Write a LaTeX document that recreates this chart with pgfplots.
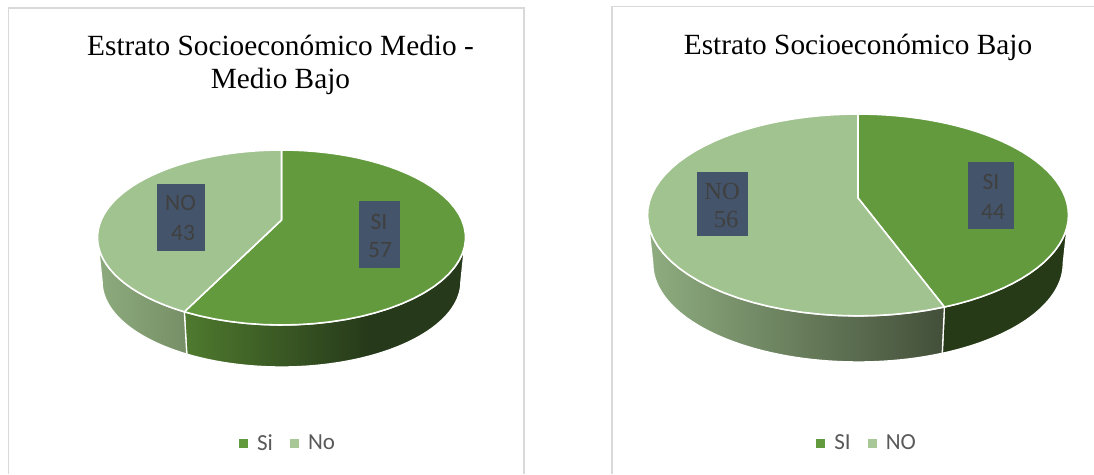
\documentclass[border=0pt]{standalone}
\usepackage{pgfplots}
\usepackage{pgfplotstable}
\pgfplotsset{compat=1.18}
\usepackage{fontspec}
\setmainfont{Liberation Serif}
\newfontfamily\calibri{Carlito}

\definecolor{siTop}{HTML}{629A3D}
\definecolor{noTop}{HTML}{A1C38F}
\definecolor{frameGray}{HTML}{D9D9D9}
\definecolor{boxBlue}{HTML}{44546A}
\definecolor{boxText}{HTML}{404040}
\definecolor{legendText}{HTML}{595959}
\definecolor{legendNo}{HTML}{A8C898}
\definecolor{wallA}{HTML}{4F7A2E}
\definecolor{wallB}{HTML}{26391A}
\definecolor{wallC}{HTML}{8DAB7E}
\definecolor{wallD}{HTML}{778F66}
\definecolor{wallE}{HTML}{8FAD80}
\definecolor{wallF}{HTML}{434F39}
\definecolor{wallG}{HTML}{263A17}

% Wall shadings: the path's bounding box spans 25bp to 75bp of each ramp.
\pgfdeclarehorizontalshading{wallSiMedio}{100bp}{
  color(0bp)=(wallA); color(25bp)=(wallA);
  color(58bp)=(wallB); color(100bp)=(wallB)}
\pgfdeclarehorizontalshading{wallNoMedio}{100bp}{
  color(0bp)=(wallC); color(25bp)=(wallC);
  color(75bp)=(wallD); color(100bp)=(wallD)}
\pgfdeclarehorizontalshading{wallNoBajo}{100bp}{
  color(0bp)=(wallE); color(25bp)=(wallE);
  color(75bp)=(wallF); color(100bp)=(wallF)}
\pgfdeclarehorizontalshading{wallSiBajo}{100bp}{
  color(0bp)=(wallG); color(100bp)=(wallG)}

% Survey shares per socio-economic stratum
\pgfplotstableread{
stratum si no
medio   57 43
bajo    44 56
}\shares

% Perspective disc: centre, vertical and horizontal gain, tilt, base scale, wall depth
\newcommand{\setpie}[7]{%
  \def\pieX{#1}\def\pieY{#2}\def\pieA{#3}\def\pieB{#4}\def\pieK{#5}\def\pieS{#6}\def\pieD{#7}%
  \pgfmathsetmacro\wallFrom{acos(-\pieK)}%
  \pgfmathsetmacro\wallTo{360-\wallFrom}%
}
% Seam angle of the first slice, clockwise from twelve o'clock, with the slight
% sideways lean of the slanted view
\newcommand{\setsplit}[1]{%
  \pgfplotstablegetelem{#1}{si}\of\shares\let\siv\pgfplotsretval
  \pgfplotstablegetelem{#1}{no}\of\shares\let\nov\pgfplotsretval
  \pgfmathsetmacro\split{\siv/(\siv+\nov)*360}%
  \pgfmathsetmacro\split{\split+0.55*(1-cos(\split))}%
}
% Appends an arc of the disc, angles clockwise from twelve o'clock
\newcommand{\appendarc}[4]{%
  \foreach \i in {0,...,48}{%
    \pgfmathsetmacro\t{#1+(#2-#1)*\i/48}%
    \pgfmathsetmacro\den{1+\pieK*cos(\t)}%
    \pgfmathsetmacro\px{\pieX+#3*\pieB*sin(\t)/\den}%
    \pgfmathsetmacro\py{\pieY-#3*\pieA*cos(\t)/\den+#4}%
    \xdef\pts{\pts (\px,\py)}%
  }%
}
\newcommand{\topslice}[3]{%
  \gdef\pts{(\pieX,\pieY)}%
  \appendarc{#2}{#3}{1}{0}%
  \edef\cmd{\noexpand\addplot[fill=#1,draw=white,line width=1.6pt,line join=round,forget plot]
    coordinates {\pts} -- cycle;}\cmd
}
\newcommand{\wallslice}[3]{%
  \gdef\pts{}%
  \appendarc{#2}{#3}{1}{0}%
  \appendarc{#3}{#2}{\pieS}{\pieD}%
  \edef\cmd{\noexpand\addplot[shade,shading=#1,draw=white,line width=1.3pt,line join=round,forget plot]
    coordinates {\pts} -- cycle;}\cmd
}
% Square legend keys
\pgfplotsset{
  squarekey/.style={
    legend image code/.code={\fill[##1] (0pt,-4pt) rectangle (8pt,4pt);\path[draw=none,fill=none] (16pt,0pt) circle (0pt);}},
  panel/.style={
    scale only axis, hide axis, y dir=reverse,
    height=474pt, ymin=0, ymax=474, clip=false,
    legend columns=2,
    legend style={draw=none,fill=none,anchor=center,
      font=\calibri\fontsize{23}{26}\selectfont,text=legendText,
      /tikz/every even column/.style={column sep=15pt}},
    squarekey},
}
\newcommand{\labelbox}[4]{\fill[boxBlue] (axis cs:#1,#3) rectangle (axis cs:#2,#4);}
\newcommand{\boxlabel}[5]{\node[text=boxText,inner sep=0pt,font=#4\fontsize{#5}{26}\selectfont] at (axis cs:#1,#2) {#3};}

\begin{document}
\begin{tikzpicture}
\useasboundingbox (0pt,0pt) rectangle (1094pt,474pt);
\begin{axis}[panel, at={(0pt,0pt)}, anchor=south west, width=568pt, xmin=0, xmax=568,
  legend style={at={(axis cs:288,443)}}]
  \draw[frameGray,line width=1.8pt] (axis cs:8.5,474) -- (axis cs:8.5,8) -- (axis cs:524,8) -- (axis cs:524,474);
  \setsplit{0}
  \setpie{281.5}{220}{84}{180.3}{0.2}{0.975}{44.6}
  \wallslice{wallSiMedio}{\wallFrom}{\split}
  \wallslice{wallNoMedio}{\split}{\wallTo}
  \topslice{siTop}{0}{\split}
  \topslice{noTop}{\split}{360}
  \labelbox{157}{205}{184}{251}
  \labelbox{359}{400}{201}{268}
  \boxlabel{180.5}{203}{NO}{\calibri}{23.5}
  \boxlabel{183}{233}{43}{\calibri}{23.5}
  \boxlabel{379}{222}{SI}{\calibri}{23.5}
  \boxlabel{380}{250}{57}{\calibri}{23.5}
  \node[inner sep=0pt,anchor=base,font=\fontsize{29.3}{33}\selectfont] at (axis cs:280.5,55.5) {Estrato Socioeconómico Medio -};
  \node[inner sep=0pt,anchor=base,font=\fontsize{29.3}{33}\selectfont] at (axis cs:280.5,88.5) {Medio Bajo};
  \addlegendimage{siTop}\addlegendentry{Si}
  \addlegendimage{legendNo}\addlegendentry{No}
\end{axis}
\begin{axis}[panel, at={(568pt,0pt)}, anchor=south west, width=526pt, xmin=568, xmax=1094,
  legend style={at={(axis cs:867,443)}}]
  \draw[frameGray,line width=1.8pt] (axis cs:612,474) -- (axis cs:612,6.5) -- (axis cs:1094,6.5);
  \setsplit{1}
  \setpie{858}{198}{98.1}{207.5}{0.168}{0.975}{49}
  \wallslice{wallSiBajo}{\wallFrom}{\split}
  \wallslice{wallNoBajo}{\split}{\wallTo}
  \topslice{siTop}{0}{\split}
  \topslice{noTop}{\split}{360}
  \labelbox{697}{748}{172}{236}
  \labelbox{968}{1014}{162}{229}
  \boxlabel{722}{192}{NO}{\rmfamily}{24.5}
  \boxlabel{726}{220}{56}{\rmfamily}{24.5}
  \boxlabel{991}{182}{SI}{\calibri}{23.5}
  \boxlabel{993}{212}{44}{\calibri}{23.5}
  \node[inner sep=0pt,anchor=base,font=\fontsize{29.3}{33}\selectfont] at (axis cs:858,54.5) {Estrato Socioeconómico Bajo};
  \addlegendimage{siTop}\addlegendentry{SI}
  \addlegendimage{legendNo}\addlegendentry{NO}
\end{axis}
\end{tikzpicture}
\end{document}
